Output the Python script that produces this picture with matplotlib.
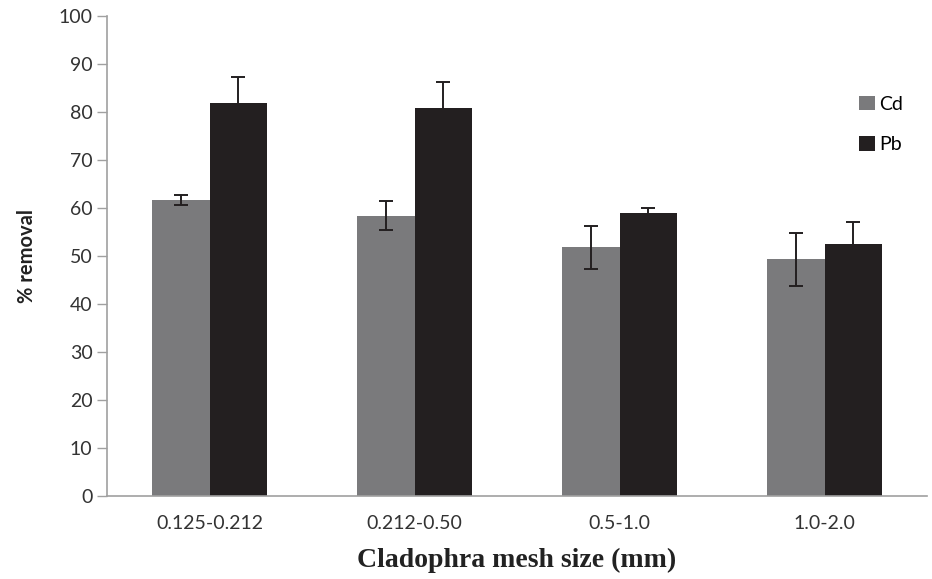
import numpy as np
import matplotlib
matplotlib.use("Agg")
import matplotlib.pyplot as plt

categories = ["0.125-0.212", "0.212-0.50", "0.5-1.0", "1.0-2.0"]
cd_values = [61.7, 58.4, 51.8, 49.3]
cd_errors = [1.0, 3.0, 4.5, 5.5]
pb_values = [81.8, 80.8, 58.9, 52.5]
pb_errors = [5.5, 5.5, 1.0, 4.5]
yticks = list(range(0, 101, 10))

fig = plt.figure(figsize=(9.32, 5.79), dpi=100)
ax = fig.add_axes([0.1148, 0.1434, 0.88, 0.829])

x = np.arange(len(categories))
w = 0.28
ekw = dict(ecolor="#231f20", elinewidth=1.4, capsize=5, capthick=1.4)
ax.bar(x - w / 2, cd_values, w, yerr=cd_errors, color="#7a7a7c", label="Cd", error_kw=ekw)
ax.bar(x + w / 2, pb_values, w, yerr=pb_errors, color="#231f20", label="Pb", error_kw=ekw)

ax.set_xlim(-0.5, len(categories) - 0.5)
ax.set_ylim(0, 100)
ax.set_yticks(yticks)
ax.set_xticks(x)
ax.set_xticklabels(categories, fontsize=14, color="#333333", family="Lato")
ax.tick_params(axis="y", labelsize=14, labelcolor="#333333", length=7, color="#a0a0a0", width=1)
ax.tick_params(axis="x", length=0, pad=14)
for lab in ax.get_yticklabels():
    lab.set_family("Lato")

for s in ["top", "right"]:
    ax.spines[s].set_visible(False)
for s in ["left", "bottom"]:
    ax.spines[s].set_color("#a0a0a0")
    ax.spines[s].set_linewidth(1.2)

ax.set_ylabel("% removal", fontsize=14.5, fontweight="bold", family="Lato", color="#222222")
ax.yaxis.set_label_coords(-0.085, 0.5)
ax.set_xlabel("Cladophra mesh size (mm)", fontsize=20, fontweight="bold",
              family="Liberation Serif", color="#222222")
ax.xaxis.set_label_coords(0.5, -0.108)

ax.legend(loc="center left", bbox_to_anchor=(0.905, 0.774), frameon=False,
          prop={"family": "Lato", "size": 14}, handlelength=0.8, handleheight=0.8,
          handletextpad=0.25, labelspacing=1.2, borderpad=0)

fig.savefig("out.png", dpi=100)
